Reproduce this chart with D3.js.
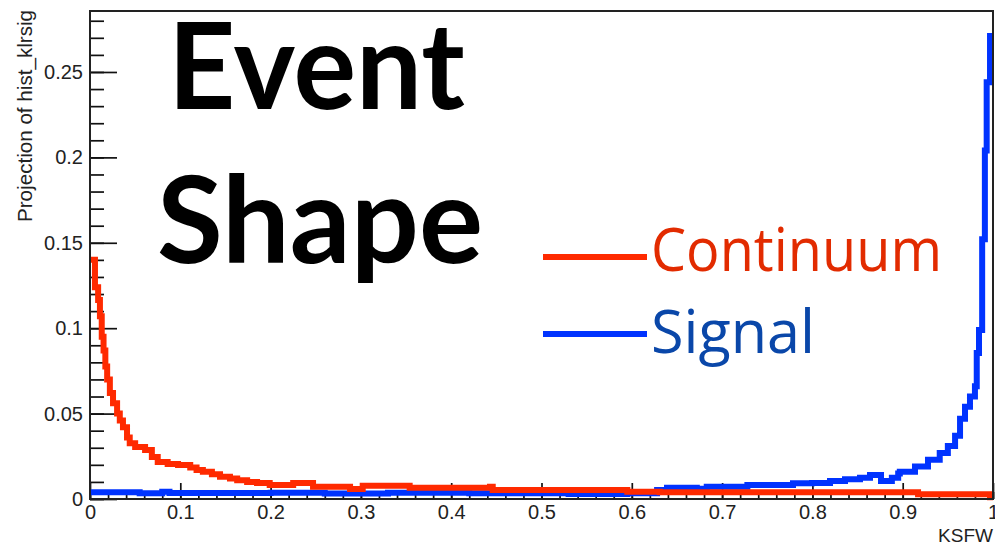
<!DOCTYPE html>
<html>
<head>
<meta charset="utf-8">
<script src="https://cdn.jsdelivr.net/npm/d3@7"></script>
<style>
  body { margin: 0; background: #fff; }
  svg { display: block; }
  .tick text { font-family: "Liberation Sans", Arial, sans-serif; fill: #222; }
</style>
</head>
<body>
<div id="chart"></div>
<script>
// continuum histogram: left edge of each step (KSFW) and its content
var contEdges = [0.000, 0.0055, 0.009, 0.011, 0.013, 0.015, 0.017, 0.019, 0.022, 0.0255,
    0.030, 0.033, 0.0365, 0.041, 0.044, 0.050, 0.061, 0.0685, 0.075, 0.086,
    0.0975, 0.111, 0.118, 0.125, 0.135, 0.144, 0.155, 0.163, 0.174, 0.185,
    0.199, 0.225, 0.247, 0.288, 0.302, 0.354, 0.443, 0.446, 0.595, 0.631,
    0.917, 0.9967];
var contVals = [0.140, 0.124, 0.1165, 0.107, 0.095, 0.087, 0.0775, 0.070, 0.062, 0.056,
    0.050, 0.046, 0.042, 0.036, 0.0327, 0.0305, 0.0287, 0.0246, 0.0217, 0.0205,
    0.0199, 0.0185, 0.017, 0.016, 0.0145, 0.013, 0.012, 0.011, 0.010, 0.0094,
    0.0082, 0.0094, 0.0072, 0.0058, 0.0078, 0.0066, 0.0072, 0.0053, 0.0043, 0.0039,
    0.0028, 0.001];

// signal histogram
var sigEdges = [0.000, 0.055, 0.080, 0.088, 0.200, 0.260, 0.330, 0.420, 0.530, 0.595,
    0.628, 0.639, 0.672, 0.683, 0.728, 0.7785, 0.7996, 0.8195, 0.8361, 0.8527,
    0.8638, 0.876, 0.888, 0.895, 0.8968, 0.9136, 0.928, 0.941, 0.950, 0.958,
    0.9635, 0.969, 0.9745, 0.980, 0.982, 0.9845, 0.988, 0.991, 0.993, 0.9967];
var sigVals = [0.004, 0.0033, 0.0042, 0.0035, 0.0037, 0.0032, 0.0036, 0.0033, 0.0030, 0.0033,
    0.0053, 0.0066, 0.0060, 0.0072, 0.0082, 0.0092, 0.0094, 0.0105, 0.0115, 0.0125,
    0.0140, 0.0105, 0.0125, 0.0150, 0.016, 0.019, 0.023, 0.027, 0.031, 0.037,
    0.047, 0.054, 0.060, 0.066, 0.0855, 0.099, 0.152, 0.204, 0.244, 0.271];

var xMajor = [0, 0.1, 0.2, 0.3, 0.4, 0.5, 0.6, 0.7, 0.8, 0.9, 1];
var yMajor = [0, 0.05, 0.1, 0.15, 0.2, 0.25];
var xMinor = d3.range(0, 51).map(function(i) { return i / 50; });
var yMinor = d3.range(0, 29).map(function(i) { return i / 100; });

var legendLabels = ["Continuum", "Signal"];

(function() {
    var W = 995, H = 545;
    var frameL = 90, frameR = 993, frameT = 11, frameB = 499;

    var svg = d3.select("#chart").append("svg")
        .attr("width", W)
        .attr("height", H);

    var x = d3.scaleLinear().domain([0, 1]).range([frameL, frameR]);
    var y = d3.scaleLinear().domain([0, 0.2857]).range([frameB, frameT]);

    // minor ticks first
    svg.append("g")
        .attr("transform", "translate(0," + frameB + ")")
        .call(d3.axisBottom(x).tickValues(xMinor).tickSize(-7).tickFormat(""))
        .call(function(g) { g.select(".domain").remove(); })
        .selectAll("line").attr("stroke", "#111").attr("stroke-width", 1.7);

    svg.append("g")
        .attr("transform", "translate(" + frameL + ",0)")
        .call(d3.axisLeft(y).tickValues(yMinor).tickSize(-14).tickFormat(""))
        .call(function(g) { g.select(".domain").remove(); })
        .selectAll("line").attr("stroke", "#111").attr("stroke-width", 1.7);

    // major ticks + labels
    var xAxis = svg.append("g")
        .attr("transform", "translate(0," + frameB + ")")
        .call(d3.axisBottom(x).tickValues(xMajor).tickSizeInner(-16).tickSizeOuter(0).tickPadding(6)
            .tickFormat(function(d) { return String(+d.toFixed(1)); }));
    xAxis.select(".domain").remove();
    xAxis.selectAll("line").attr("stroke", "#111").attr("stroke-width", 1.7);
    xAxis.selectAll("text").attr("font-size", 20);

    var yAxis = svg.append("g")
        .attr("transform", "translate(" + frameL + ",0)")
        .call(d3.axisLeft(y).tickValues(yMajor).tickSizeInner(-27).tickSizeOuter(0).tickPadding(7)
            .tickFormat(function(d) { return String(+d.toFixed(2)); }));
    yAxis.select(".domain").remove();
    yAxis.selectAll("line").attr("stroke", "#111").attr("stroke-width", 1.7);
    yAxis.selectAll("text").attr("font-size", 20);

    // histograms
    function stepPoints(edges, vals) {
        var pts = edges.map(function(e, i) { return [e, vals[i]]; });
        pts.push([1, vals[vals.length - 1]]);
        return pts;
    }
    var line = d3.line()
        .x(function(d) { return x(d[0]); })
        .y(function(d) { return y(d[1]); })
        .curve(d3.curveStepAfter);

    svg.append("path")
        .attr("d", line(stepPoints(sigEdges, sigVals)))
        .attr("fill", "none")
        .attr("stroke", "#0033ff")
        .attr("stroke-width", 6);

    svg.append("path")
        .attr("d", line(stepPoints(contEdges, contVals)))
        .attr("fill", "none")
        .attr("stroke", "#ff2a00")
        .attr("stroke-width", 6);

    // frame
    svg.append("rect")
        .attr("x", frameL).attr("y", frameT)
        .attr("width", frameR - frameL).attr("height", frameB - frameT)
        .attr("fill", "none")
        .attr("stroke", "#222")
        .attr("stroke-width", 2);

    // axis titles
    svg.append("text")
        .attr("x", frameR).attr("y", 542)
        .attr("text-anchor", "end")
        .attr("font-family", "Liberation Sans, Arial, sans-serif")
        .attr("font-size", 19)
        .attr("fill", "#222")
        .text("KSFW");

    svg.append("text")
        .attr("transform", "translate(32,10) rotate(-90)")
        .attr("text-anchor", "end")
        .attr("font-family", "Liberation Sans, Arial, sans-serif")
        .attr("font-size", 20)
        .attr("textLength", 212)
        .attr("lengthAdjust", "spacingAndGlyphs")
        .attr("fill", "#222")
        .text("Projection of hist_klrsig");

    // big title
    var big = svg.append("g")
        .attr("font-family", "Lato, 'Open Sans', sans-serif")
        .attr("font-weight", 700)
        .attr("font-size", 121)
        .attr("fill", "#000");
    big.append("text").attr("x", 168).attr("y", 109)
        .attr("textLength", 297).attr("lengthAdjust", "spacingAndGlyphs").text("Event");
    big.append("text").attr("x", 157).attr("y", 263)
        .attr("textLength", 326).attr("lengthAdjust", "spacingAndGlyphs").text("Shape");

    // legend
    var legY = [257, 334];
    var legLine = ["#ff2a00", "#0033ff"];
    var legText = ["#e22b00", "#0a47a9"];
    var legBase = [271, 353];
    var legLen = [291, 164];
    legendLabels.forEach(function(lab, i) {
        svg.append("line")
            .attr("x1", 543).attr("x2", 647)
            .attr("y1", legY[i]).attr("y2", legY[i])
            .attr("stroke", legLine[i])
            .attr("stroke-width", 6);
        svg.append("text")
            .attr("x", 651).attr("y", legBase[i])
            .attr("font-family", "'Open Sans', sans-serif")
            .attr("font-size", 61)
            .attr("fill", legText[i])
            .attr("textLength", legLen[i])
            .attr("lengthAdjust", "spacingAndGlyphs")
            .text(lab);
    });
})();
</script>
</body>
</html>
